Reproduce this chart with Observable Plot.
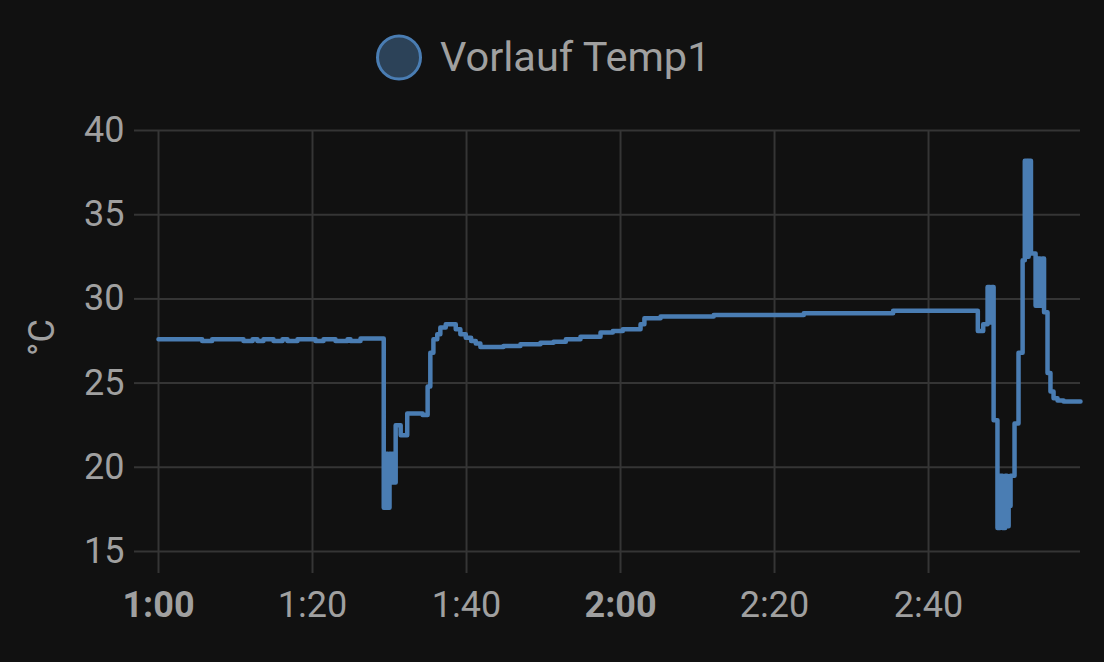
<!DOCTYPE html>
<html>
<head>
<meta charset="utf-8">
<script src="https://cdn.jsdelivr.net/npm/d3@7"></script>
<script src="https://cdn.jsdelivr.net/npm/@observablehq/plot@0.6"></script>
<style>
  html, body { margin: 0; padding: 0; background: #111111; }
  body { width: 1104px; height: 662px; overflow: hidden; font-family: Roboto, sans-serif; }
  #legend { display: block; }
</style>
</head>
<body>
<svg id="legend" width="1104" height="100"></svg>
<div id="chart"></div>
<script>
const seriesName = "Vorlauf Temp1";
const yLabel = "°C";
const times = [
  "1:00:00","1:05:40","1:06:58","1:11:02","1:12:13","1:12:51","1:13:38","1:14:56","1:16:06","1:16:45",
  "1:18:03","1:20:23","1:21:26","1:22:59","1:24:33","1:24:56","1:26:14","1:29:15","1:29:36","1:29:48",
  "1:30:00","1:30:09","1:30:24","1:30:36","1:30:48","1:31:27","1:32:18","1:34:18","1:34:57","1:35:18",
  "1:35:42","1:36:12","1:36:36","1:37:18","1:38:36","1:39:12","1:39:54","1:40:36","1:41:12","1:41:48",
  "1:44:48","1:47:00","1:49:36","1:51:18","1:52:54","1:54:48","1:57:24","1:59:00","2:00:18","2:02:36",
  "2:03:06","2:05:12","2:12:06","2:23:48","2:35:24","2:46:24","2:47:06","2:47:40","2:48:00","2:48:12",
  "2:48:27","2:48:57","2:49:18","2:49:36","2:49:57","2:50:12","2:50:24","2:50:39","2:51:10","2:51:41",
  "2:52:13","2:52:30","2:52:48","2:53:00","2:53:18","2:53:54","2:54:12","2:54:30","2:54:48","2:55:00",
  "2:55:27","2:55:50","2:56:14","2:56:45","2:57:32","2:59:44"
];
const temps = [
  27.6,27.5,27.6,27.5,27.6,27.5,27.6,27.5,27.6,27.5,
  27.6,27.5,27.6,27.5,27.6,27.5,27.65,17.6,20.8,17.6,
  20.8,19.1,20.8,19.1,22.5,21.9,23.2,23.1,24.8,26.8,
  27.6,27.9,28.3,28.5,28.2,27.9,27.7,27.5,27.35,27.15,
  27.2,27.3,27.4,27.45,27.6,27.75,28.0,28.1,28.2,28.5,
  28.85,28.95,29.05,29.15,29.3,28.1,28.5,30.7,28.6,30.7,
  22.8,16.4,19.5,16.4,19.5,16.5,17.7,19.5,22.6,26.8,
  32.3,38.2,32.5,38.2,32.7,29.6,32.4,29.6,32.4,29.2,
  25.6,24.5,24.1,23.97,23.9,23.9
];
const yTicks = [15, 20, 25, 30, 35, 40];
const xTickLabels = ["1:00", "1:20", "1:40", "2:00", "2:20", "2:40"];
const boldTickLabels = ["1:00", "2:00"];

const parse = d3.utcParse("%H:%M:%S");
const parseTick = d3.utcParse("%H:%M");
const fmt = d3.utcFormat("%-H:%M");
const data = times.map((t, i) => ({time: parse(t), value: temps[i]}));
const xTicks = xTickLabels.map(parseTick);
const hourTicks = xTickLabels.filter(l => boldTickLabels.includes(l)).map(parseTick);
const minuteTicks = xTickLabels.filter(l => !boldTickLabels.includes(l)).map(parseTick);

const lineColor = "#4a7db3";
const gridColor = "#353535";
const textColor = "#a0a0a0";

// legend
const legend = d3.select("#legend");
legend.append("circle").attr("cx", 399).attr("cy", 57.5).attr("r", 21.5)
  .attr("fill", "#2c4258").attr("stroke", lineColor).attr("stroke-width", 3);
legend.append("text").attr("x", 440).attr("y", 71).attr("fill", textColor)
  .attr("font-family", "Roboto").attr("font-size", 41.5).text(seriesName);

const chart = Plot.plot({
  width: 1104,
  height: 562,
  marginTop: 30,
  marginBottom: 111,
  marginLeft: 158,
  marginRight: 24,
  style: {background: "#111111", color: textColor, fontFamily: "Roboto", overflow: "visible"},
  x: {type: "utc", domain: [data[0].time, data[data.length - 1].time]},
  y: {domain: [15, 40]},
  marks: [
    Plot.gridY(yTicks, {stroke: gridColor, strokeOpacity: 1, strokeWidth: 2}),
    Plot.gridX(xTicks, {stroke: gridColor, strokeOpacity: 1, strokeWidth: 2}),
    Plot.axisY(yTicks, {tickSize: 24, tickPadding: 10, stroke: gridColor, strokeWidth: 2, fill: textColor, fontSize: 36, label: null}),
    Plot.axisX(minuteTicks, {tickSize: 22, tickPadding: 18, stroke: gridColor, strokeWidth: 2, fill: textColor, fontSize: 36, tickFormat: fmt, label: null}),
    Plot.axisX(hourTicks, {tickSize: 22, tickPadding: 18, stroke: gridColor, strokeWidth: 2, fill: textColor, fontSize: 36, fontWeight: "bold", tickFormat: fmt, label: null}),
    Plot.text([yLabel], {frameAnchor: "left", dx: -116, dy: 15, rotate: -90, fill: textColor, fontSize: 36}),
    Plot.lineY(data, {x: "time", y: "value", curve: "step-after", stroke: lineColor, strokeWidth: 4.5})
  ]
});
document.getElementById("chart").appendChild(chart);
</script>
</body>
</html>
